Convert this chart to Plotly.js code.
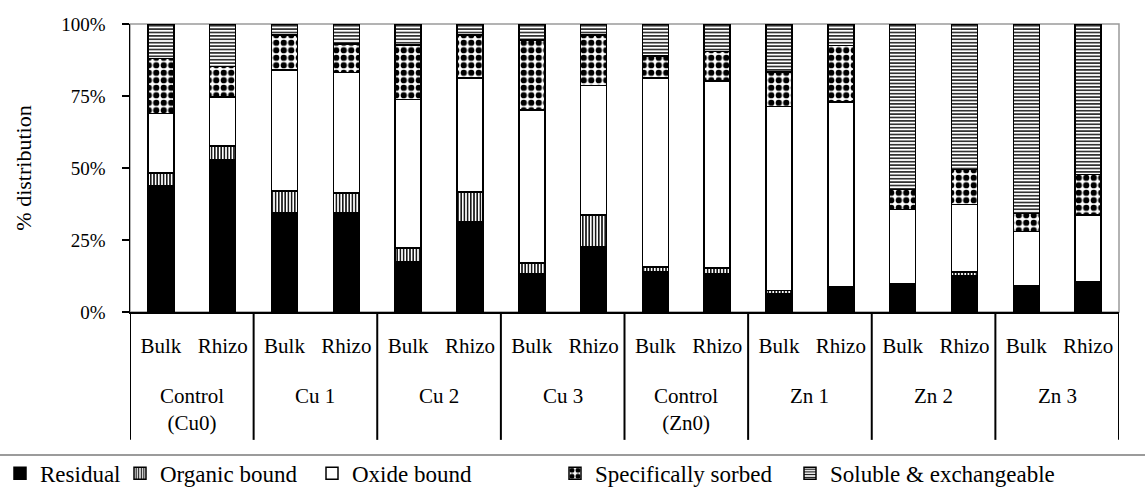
<!DOCTYPE html>
<html>
<head>
<meta charset="utf-8">
<script src="https://cdn.plot.ly/plotly-3.0.1.min.js"></script>
<style>html,body{margin:0;padding:0;background:#fff;}#chart{width:1145px;height:491px;}</style>
</head>
<body>
<div id="chart"></div>
<script>
// Treatment groups (outer level) and soil types (inner level)
const groups = ["Control<br>(Cu0)", "Cu 1", "Cu 2", "Cu 3", "Control<br>(Zn0)", "Zn 1", "Zn 2", "Zn 3"];
const soils = ["Bulk", "Rhizo"];

// % distribution of fractions per bar (order: group x soil)
const residual   = [43.7, 53.0, 34.4, 34.4, 17.4, 31.3, 13.3, 22.6, 13.9, 13.3, 6.4, 8.5, 9.3, 12.7, 8.9, 10.2];
const organic    = [4.6, 4.7, 7.7, 7.0, 4.8, 10.4, 3.8, 11.0, 1.7, 2.0, 1.1, 0.3, 0.5, 1.2, 0.2, 0.2];
const oxide      = [20.6, 17.0, 41.9, 41.7, 51.6, 39.6, 53.0, 45.0, 65.7, 64.9, 63.8, 64.2, 25.8, 23.4, 18.9, 23.2];
const specific   = [19.2, 10.5, 12.2, 9.9, 18.9, 14.9, 24.3, 17.6, 7.6, 10.2, 12.1, 19.5, 6.9, 12.2, 6.2, 14.1];
const soluble    = [11.9, 14.8, 3.8, 7.0, 7.3, 3.8, 5.6, 3.8, 11.1, 9.6, 16.6, 7.5, 57.5, 50.5, 65.8, 52.3];

const seriesNames = ["Residual", "Organic bound", "Oxide bound", "Specifically sorbed", "Soluble & exchangeable"];
const yTickVals = [0, 25, 50, 75, 100];
const yTickText = ["0%", "25%", "50%", "75%", "100%"];

// build x positions (one slot per bar) and inner labels
const xIdx = [], xText = [];
groups.forEach((g, gi) => soils.forEach((s, si) => { xIdx.push(gi * soils.length + si); xText.push(s); }));
const nSoil = soils.length;

const line = {color: "black", width: 1.5};
const styles = [
  {color: "black", line: line},
  {color: "white", line: line, pattern: {shape: "|", fgcolor: "black", bgcolor: "white", size: 3.2, solidity: 0.45, fillmode: "replace"}},
  {color: "white", line: line},
  {color: "white", line: line, pattern: {shape: ".", fgcolor: "black", bgcolor: "white", size: 7.5, solidity: 0.55, fillmode: "replace"}},
  {color: "white", line: line, pattern: {shape: "-", fgcolor: "black", bgcolor: "white", size: 3.4, solidity: 0.4, fillmode: "replace"}}
];
const values = [residual, organic, oxide, specific, soluble];
const legendIds = ["legend", "legend2", "legend3", "legend4", "legend5"];

const data = values.map((v, i) => ({
  type: "bar", x: xIdx, y: v, name: seriesNames[i], marker: styles[i],
  legend: legendIds[i], showlegend: true, hoverinfo: "name+y"
}));

// outer group labels and dividers
const annotations = groups.map((g, gi) => ({
  text: g, x: gi * nSoil + (nSoil - 1) / 2, xref: "x", y: -0.243, yref: "paper",
  yanchor: "top", xanchor: "center", showarrow: false, font: {size: 21}
}));
const shapes = [
  {type: "rect", xref: "paper", yref: "paper", x0: 0, x1: 1, y0: 0, y1: 1, line: {color: "#9a9a9a", width: 1.5}, layer: "below"},
  {type: "line", xref: "paper", yref: "paper", x0: -0.14, x1: 1.04, y0: -0.4965, y1: -0.4965, line: {color: "#7a7a7a", width: 1.5}}
];
for (let k = 0; k <= groups.length; k++) {
  shapes.push({type: "line", xref: "x", yref: "paper", x0: k * nSoil - 0.5, x1: k * nSoil - 0.5, y0: 0, y1: -0.444, line: {color: "black", width: 2}});
}

const legendBase = {xref: "container", yref: "container", y: 0.036, yanchor: "middle", xanchor: "left",
  font: {size: 23}, itemwidth: 30, bgcolor: "rgba(0,0,0,0)", orientation: "h", visible: true};
const legendLeft = [-8, 120, 312, 555, 790];

const layout = {
  width: 1145, height: 491,
  showlegend: true,
  margin: {l: 130, r: 26, t: 24, b: 179, pad: 0},
  barmode: "stack", bargap: 0.58,
  paper_bgcolor: "white", plot_bgcolor: "white",
  font: {family: '"Liberation Serif", "Times New Roman", serif', color: "black"},
  xaxis: {
    automargin: false, range: [-0.5, xIdx.length - 0.5],
    tickmode: "array", tickvals: xIdx, ticktext: xText,
    showline: true, linecolor: "black", linewidth: 1.5,
    ticks: "", showgrid: false, zeroline: false,
    tickfont: {size: 21}, ticklabelstandoff: 14
  },
  yaxis: {
    range: [0, 100], automargin: false, tickmode: "array", tickvals: yTickVals, ticktext: yTickText,
    ticks: "outside", ticklen: 7, tickcolor: "black", tickwidth: 1.5,
    showline: true, linecolor: "black", linewidth: 1.5,
    showgrid: false, zeroline: false,
    tickfont: {size: 19}, ticklabelstandoff: 12,
    title: {text: "% distribution", font: {size: 22}, standoff: 23}
  },
  annotations: annotations,
  shapes: shapes
};
legendIds.forEach((id, i) => { layout[id] = Object.assign({}, legendBase, {x: legendLeft[i] / 1145}); });

Plotly.newPlot("chart", data, layout, {displayModeBar: false, staticPlot: true});
</script>
</body>
</html>
